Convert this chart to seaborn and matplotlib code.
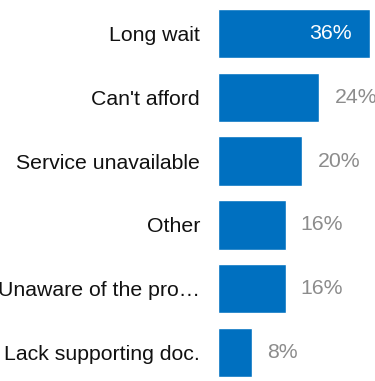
import matplotlib
matplotlib.use("Agg")
import matplotlib.pyplot as plt
import seaborn as sns
import pandas as pd

categories = ["Long wait", "Can't afford", "Service unavailable", "Other",
              "Unaware of the pro\u2026", "Lack supporting doc."]
values = [36, 24, 20, 16, 16, 8]

sns.set_theme(style="white")
plt.rcParams["font.family"] = ["Liberation Sans", "DejaVu Sans"]

df = pd.DataFrame({"reason": categories, "pct": values})

fig = plt.figure(figsize=(3.75, 3.81), dpi=100)
ax = fig.add_axes([218 / 375, 1 - 384.4 / 381, 152 / 375, 382.8 / 381])

sns.barplot(data=df, x="pct", y="reason", orient="h", color="#0070C0",
            saturation=1, width=0.776, ax=ax)

ax.set_xlim(0, 36)
ax.set_ylim(5.5, -0.5)
ax.set_xlabel("")
ax.set_ylabel("")
ax.set_xticks([])
ax.tick_params(axis="y", length=0, pad=13, labelsize=15.3, labelcolor="#111111")
for s in ax.spines.values():
    s.set_visible(False)

vmax = max(values)
for i, v in enumerate(values):
    if v == vmax:
        ax.annotate(f"{v}%", (v, i), xytext=(-13, 0), textcoords="offset points",
                    ha="right", va="center", color="white", fontsize=15.3,
                    annotation_clip=False)
    else:
        ax.annotate(f"{v}%", (v, i), xytext=(11, 0), textcoords="offset points",
                    ha="left", va="center", color="#8c8c8c", fontsize=15.3,
                    annotation_clip=False)

fig.savefig("out.png", dpi=100)
